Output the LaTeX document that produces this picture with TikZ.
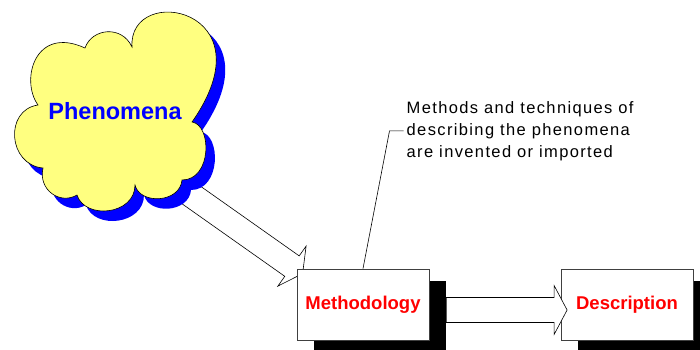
\documentclass[tikz,border=0pt]{standalone}
\usepackage{fontspec}
\setmainfont{Liberation Sans}
\newfontfamily\notefont[LetterSpace=8.3]{Liberation Sans}
\usetikzlibrary{calc,shadows,backgrounds}

\definecolor{cloudyellow}{RGB}{255,255,128}
\definecolor{boxgray}{RGB}{64,64,64}

% block arrow from #1 to the tip #2
\newcommand{\hollowarrow}[2]{%
  \coordinate (#2-base) at ($(#2)!\headl!(#1)$);
  \draw[hollow] ($(#1)!\shaftw!90:(#2)$) -- ($(#2-base)!\shaftw!-90:(#1)$)
    -- ($(#2-base)!\headw!-90:(#1)$) -- (#2)
    -- ($(#2-base)!\headw!90:(#1)$) -- ($(#2-base)!\shaftw!90:(#1)$)
    -- ($(#1)!\shaftw!-90:(#2)$) -- cycle;}

\tikzset{
  stagebox/.style={draw=boxgray, fill=white, line width=0.8pt,
    minimum width=132pt, minimum height=71pt, inner sep=0pt, text=red,
    font=\fontsize{18.5}{20}\selectfont\bfseries,
    drop shadow={shadow xshift=16.5pt, shadow yshift=-11.5pt, opacity=1, fill=black}},
  hollow/.style={draw=black, fill=white, line width=0.6pt},
  cloudshape/.pic={
    \path[pic actions] (132,47)
      .. controls (128,-18) and (272,8) .. (192,122)
      .. controls (212,125) and (212,180) .. (182,180)
      .. controls (180,203) and (140,205) .. (135,185)
      .. controls (135,215) and (85,220) .. (77,195)
      .. controls (60,205) and (38,190) .. (43,168)
      .. controls (8,165) and (4,110) .. (38,105)
      .. controls (20,80) and (35,25) .. (85,48)
      .. controls (92,28) and (122,25) .. (132,47) -- cycle;
  }
}

\begin{document}
\begin{tikzpicture}[x=1pt, y=-1pt]

    \def\shaftw{12.5pt};
    \def\headw{24.5pt};
    \def\headl{13pt};

    \useasboundingbox (0,0) rectangle (700,350);

    % boxes
    \node[stagebox] (meth) at (363,304.5) {Methodology};
    \node[stagebox] (desc) at (627,304.5) {Description};

    % arrow from the cloud
    \coordinate (flowtip) at ($(meth.north west)+(6,5)$);
    \coordinate (flowstart) at ($(flowtip)+(-127.5,-90)$);
    \begin{scope}[on background layer]
        \hollowarrow{flowstart}{flowtip}
    \end{scope}

    % cloud
    \pic[fill=blue] at (9,10) {cloudshape};
    \pic[draw=black, fill=cloudyellow, line width=0.6pt] {cloudshape};
    \node[text=blue, font=\fontsize{23.5}{25}\selectfont\bfseries] (phen) at (115,111.5) {Phenomena};

    % arrow to the description
    \coordinate (descstart) at ($(meth.east)+(17,5.5)$);
    \coordinate (desctip) at ($(desc.west)+(6.5,5.5)$);
    \hollowarrow{descstart}{desctip}

    % note
    \node[anchor=north west, align=left, inner sep=0pt,
        font=\notefont\fontsize{16.5}{22}\selectfont] (note) at (406.5,101)
        {Methods and techniques of\\describing the phenomena\\are invented or imported};
    \draw[line width=0.6pt] ($(note.west)+(-3,0)$) -- ++(-14,0) -- (meth.north);
\end{tikzpicture}
\end{document}
